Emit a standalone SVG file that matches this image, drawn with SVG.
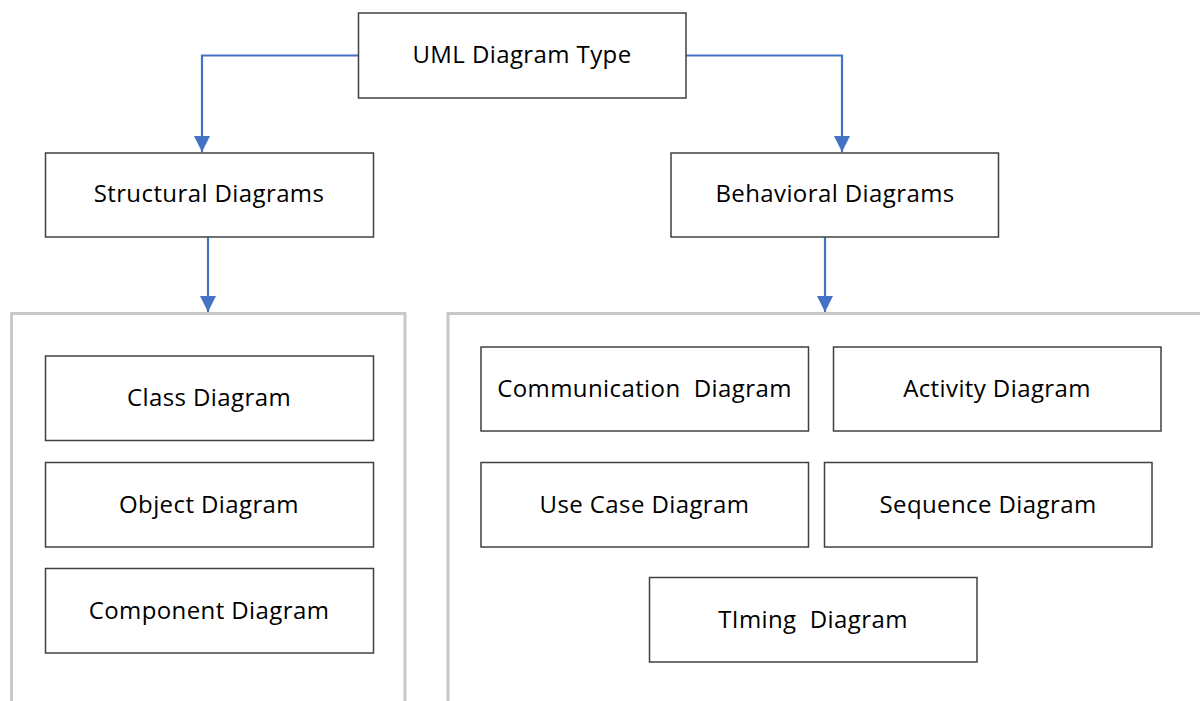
<svg xmlns="http://www.w3.org/2000/svg" width="1200" height="701" viewBox="0 0 1200 701">
<defs>
<style>
.box{fill:#fff;stroke:#404040;stroke-width:1.5}
.lbl{font-family:"Open Sans","Lato",sans-serif;font-size:24px;letter-spacing:0.4px;fill:#000;text-anchor:middle;white-space:pre}
.cont{fill:none;stroke:#c8c8c8;stroke-width:3}
.conn{fill:none;stroke:#4472c4;stroke-width:2.2}
</style>
<marker id="arr" viewBox="0 0 16 16" refX="16" refY="8" markerWidth="16" markerHeight="16" markerUnits="userSpaceOnUse" orient="auto">
<path d="M0,0 L16,8 L0,16 Z" fill="#4472c4"/>
</marker>
</defs>
<rect width="1200" height="701" fill="#fff"/>
<g id="containers">
<path class="cont" d="M11.5,705 V313.5 H405 V705"/>
<path class="cont" d="M448,705 V313.5 H1205"/>
</g>
<g id="connectors">
<path class="conn" d="M358,55.5 H202 V152" marker-end="url(#arr)"/>
<path class="conn" d="M686,55.5 H842 V152" marker-end="url(#arr)"/>
<path class="conn" d="M208,237 V312" marker-end="url(#arr)"/>
<path class="conn" d="M825,237 V312" marker-end="url(#arr)"/>
</g>
<g id="uml"><rect class="box" x="358.5" y="13" width="327.5" height="85"/><text class="lbl" x="522" y="63">UML Diagram Type</text></g>
<g id="structural"><rect class="box" x="45.5" y="153" width="328" height="84"/><text class="lbl" x="209" y="202">Structural Diagrams</text></g>
<g id="behavioral"><rect class="box" x="671" y="153" width="327.5" height="84"/><text class="lbl" x="835" y="202">Behavioral Diagrams</text></g>
<g id="class"><rect class="box" x="45.5" y="356" width="328" height="84.5"/><text class="lbl" x="209" y="406">Class Diagram</text></g>
<g id="object"><rect class="box" x="45.5" y="462.5" width="328" height="84.5"/><text class="lbl" x="209" y="513">Object Diagram</text></g>
<g id="component"><rect class="box" x="45.5" y="568.5" width="328" height="84.5"/><text class="lbl" x="209" y="619">Component Diagram</text></g>
<g id="communication"><rect class="box" x="481" y="347" width="327.5" height="84"/><text class="lbl" x="644.5" y="397">Communication  Diagram</text></g>
<g id="activity"><rect class="box" x="833.5" y="347" width="327.5" height="84"/><text class="lbl" x="997" y="397">Activity Diagram</text></g>
<g id="usecase"><rect class="box" x="481" y="462.5" width="327.5" height="84.5"/><text class="lbl" x="644.5" y="513">Use Case Diagram</text></g>
<g id="sequence"><rect class="box" x="824.5" y="462.5" width="327.5" height="84.5"/><text class="lbl" x="988" y="513">Sequence Diagram</text></g>
<g id="timing"><rect class="box" x="649.5" y="577.5" width="327.5" height="84.5"/><text class="lbl" x="813" y="628">TIming  Diagram</text></g>
</svg>
